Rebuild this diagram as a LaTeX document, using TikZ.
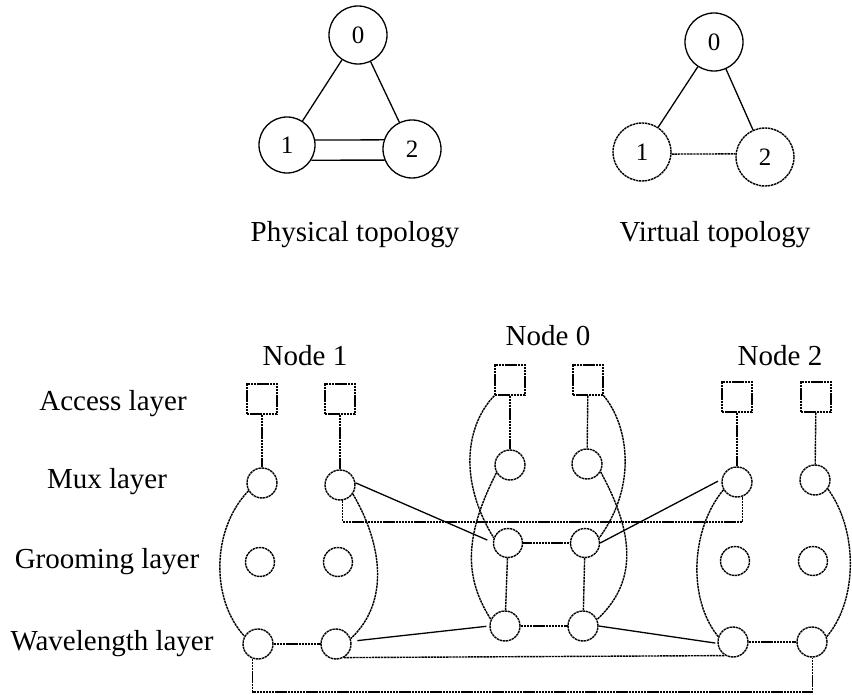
\documentclass[tikz,border=0pt]{standalone}
\usepackage{fontspec}
\setmainfont{Liberation Serif}
\begin{document}
\begin{tikzpicture}[x=1pt,y=1pt,line width=1.3pt,
  dsh/.style={line width=1.4pt,dash pattern=on 2.4pt off 0.7pt},
  topc/.style={circle,draw,inner sep=0pt,minimum size=58pt,font=\fontsize{25}{30}\selectfont},
  lab/.style={inner sep=0pt,anchor=base,font=\fontsize{29}{34}\selectfont},
  acc/.style={rectangle,draw,dsh,inner sep=0pt,minimum size=30pt},
  lc/.style={circle,draw,dsh,inner sep=0pt,minimum size=30pt},
  gc/.style={circle,draw,dsh,inner sep=0pt,minimum size=29pt}]
\useasboundingbox (0,0) rectangle (852,-695);
% ---- physical topology
\node[topc] (P0) at (358,-35) {0};
\node[topc,minimum size=56pt] (P1) at (287,-145) {1};
\node[topc] (P2) at (412,-149) {2};
\draw (P0) -- (P1);
\draw (P0) -- (P2);
\draw (P1.10) -- (P2.162);
\draw (P1.328) -- (P2.202);
% ---- virtual topology
\node[topc] (V0) at (714,-42) {0};
\node[topc,dsh] (V1) at (642,-152) {1};
\node[topc,dsh] (V2) at (765,-157) {2};
\draw (V0) -- (V1);
\draw (V0) -- (V2);
\draw[dsh] (V1.-4) -- (V2.174);
% ---- labels
\node[lab] (Lphys) at (355,-242) {Physical topology};
\node[lab] (Lvirt) at (715,-242) {Virtual topology};
\node[lab] (N1) at (305,-365) {Node 1};
\node[lab] (N0) at (548,-345) {Node 0};
\node[lab] (N2) at (780,-365) {Node 2};
\node[lab] (LA) at (113,-410) {Access layer};
\node[lab] (LM) at (107,-488) {Mux layer};
\node[lab] (LG) at (107,-568) {Grooming layer};
\node[lab] (LW) at (112,-650) {Wavelength layer};
% ---- access layer
\node[acc] (A1a) at (262,-399) {};
\node[acc] (A1b) at (340,-399) {};
\node[acc] (A0a) at (510,-380) {};
\node[acc] (A0b) at (588,-380) {};
\node[acc] (A2a) at (737,-397) {};
\node[acc] (A2b) at (816,-397) {};
% ---- mux layer
\node[lc] (M1a) at (262,-483) {};
\node[lc] (M1b) at (340,-485) {};
\node[lc] (M0a) at (510,-465) {};
\node[lc] (M0b) at (587,-464) {};
\node[lc] (M2a) at (737,-482) {};
\node[lc] (M2b) at (815,-480) {};
% ---- grooming layer
\node[gc] (G1a) at (260,-562) {};
\node[gc] (G1b) at (338,-562) {};
\node[gc] (G0a) at (508,-543) {};
\node[gc] (G0b) at (585,-543) {};
\node[gc] (G2a) at (735,-561) {};
\node[gc] (G2b) at (813,-561) {};
% ---- wavelength layer
\node[lc] (W1a) at (258,-644) {};
\node[lc] (W1b) at (336,-644) {};
\node[lc] (W0a) at (505,-626) {};
\node[lc] (W0b) at (583,-626) {};
\node[lc] (W2a) at (733,-642) {};
\node[lc] (W2b) at (812,-642) {};
% ---- access to mux
\draw[dsh] (A1a) -- (M1a);
\draw[dsh] (A1b) -- (M1b);
\draw[dsh] (A0a) -- (M0a);
\draw[dsh] (A0b) -- (M0b);
\draw[dsh] (A2a) -- (M2a);
\draw[dsh] (A2b) -- (M2b);
% ---- curves
\draw[dsh] (M1a.210) .. controls (211,-530) and (211,-600) .. (W1a.150);
\draw[dsh] (M1b.325) .. controls (380,-540) and (392,-600) .. (W1b.20);
\draw[dsh] (A0a.south west) .. controls (466,-425) and (458,-480) .. (G0a.160);
\draw[dsh] (A0b.south east) .. controls (628,-425) and (638,-485) .. (G0b.20);
\draw[dsh] (M0a.210) .. controls (462,-540) and (466,-580) .. (W0a.155);
\draw[dsh] (M0b.-30) .. controls (638,-540) and (634,-585) .. (W0b.25);
\draw[dsh] (M2a.210) .. controls (690,-530) and (688,-600) .. (W2a.160);
\draw[dsh] (M2b.-35) .. controls (858,-530) and (858,-600) .. (W2b.20);
% ---- solid links
\draw[shorten >=6pt] (M1b.8) -- (G0a.178);
\draw[shorten <=4pt] (M2a.170) -- (G0b.0);
\draw[shorten <=6pt,shorten >=3pt] (W1b.10) -- (W0a.180);
\draw[shorten >=2pt] (W0b.0) -- (W2a.185);
% ---- central square
\draw[dsh] (G0a) -- (G0b);
\draw[dsh] (G0a) -- (W0a);
\draw[dsh] (G0b) -- (W0b);
\draw[dsh] (W0a) -- (W0b);
% ---- wavelength links
\draw[dsh] (W1a) -- (W1b);
\draw[dsh] (W2a) -- (W2b);
\draw[dsh] (W1b.300) -- (W2a.240);
% ---- brackets
\draw[dsh] (M1b.280) -- (M1b.280 |- 0,-522) -| (M2a.290);
\draw[dsh] (W1a.250) -- (W1a.250 |- 0,-692) -| (W2b.272);
\end{tikzpicture}
\end{document}
